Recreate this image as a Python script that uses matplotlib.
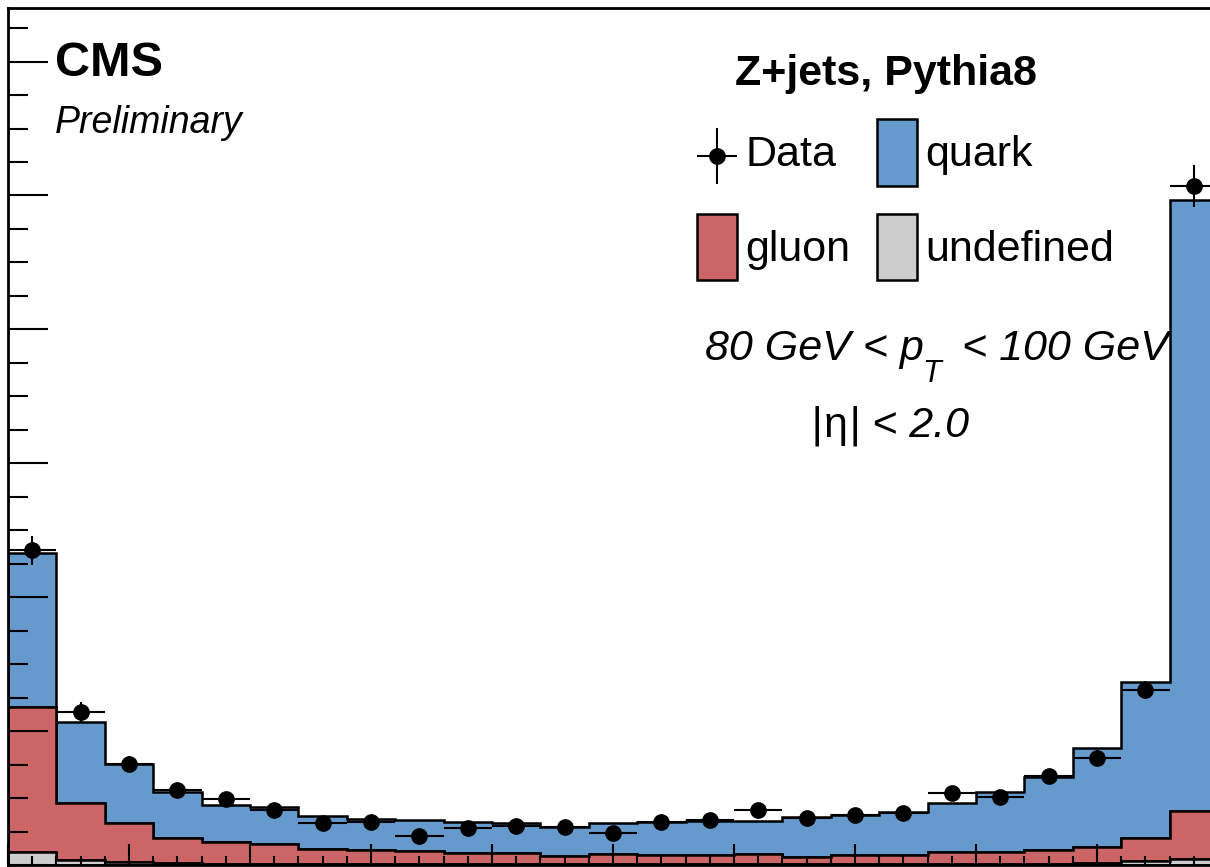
import matplotlib
matplotlib.use('Agg')
import matplotlib.pyplot as plt
import numpy as np
from matplotlib.ticker import MultipleLocator
from matplotlib.legend_handler import HandlerErrorbar

plt.rcParams['font.family'] = ['Liberation Sans', 'DejaVu Sans']

# 25 bins on [0, 1]
bin_edges = np.linspace(0, 1, 26)
bin_centers = 0.5 * (bin_edges[:-1] + bin_edges[1:])

# stacked MC components
undefined = [0.0048, 0.0019, 0.0011, 0.0006, 0.0004, 0.0003, 0.0003, 0.0003, 0.0003,
             0.0003, 0.0003, 0.0003, 0.0003, 0.0003, 0.0003, 0.0003, 0.0003, 0.0003,
             0.0003, 0.0003, 0.0003, 0.0004, 0.0006, 0.0015, 0.0022]
gluon = [0.0541, 0.0212, 0.0146, 0.0095, 0.0082, 0.0075, 0.0057, 0.0053, 0.0049,
         0.0042, 0.0042, 0.0031, 0.0038, 0.0034, 0.0034, 0.0038, 0.0027, 0.0034,
         0.0034, 0.0045, 0.0045, 0.0052, 0.0061, 0.0086, 0.0179]
quark = [0.0575, 0.0302, 0.0220, 0.0171, 0.0138, 0.0138, 0.0123, 0.0116, 0.0116,
         0.0115, 0.0112, 0.0108, 0.0116, 0.0123, 0.0127, 0.0123, 0.0149, 0.0150,
         0.0161, 0.0183, 0.0224, 0.0272, 0.0369, 0.0582, 0.2283]

# data points
data = [0.1175, 0.0571, 0.0377, 0.0280, 0.0246, 0.0205, 0.0157, 0.0160, 0.0108,
        0.0138, 0.0145, 0.0142, 0.0119, 0.0160, 0.0168, 0.0205, 0.0175, 0.0187,
        0.0194, 0.0269, 0.0254, 0.0332, 0.0399, 0.0653, 0.2536]
data_err = [0.0053, 0.0037, 0.0030, 0.0026, 0.0024, 0.0022, 0.0019, 0.0020, 0.0016,
            0.0018, 0.0019, 0.0018, 0.0017, 0.0020, 0.0020, 0.0022, 0.0020, 0.0021,
            0.0022, 0.0025, 0.0025, 0.0028, 0.0031, 0.0034, 0.0078]


class DataHandler(HandlerErrorbar):
    # put the data marker nearer the middle of the legend row
    def create_artists(self, legend, orig_handle, xdescent, ydescent, width, height,
                       fontsize, trans):
        return super().create_artists(legend, orig_handle, xdescent, ydescent + 20,
                                      width, height, fontsize, trans)


W, H = 1210, 867
fig = plt.figure(figsize=(W / 100, H / 100), dpi=100)
ax = fig.add_axes([8 / W, 2 / H, 1210 / W, 857 / H])

hist_out = ax.hist([bin_centers] * 3, bins=bin_edges, weights=[undefined, gluon, quark],
                   stacked=True, histtype='stepfilled',
                   color=['#cccccc', '#cc6666', '#6699cc'], edgecolor='black',
                   linewidth=1.8, label=['undefined', 'gluon', 'quark'])
patches = hist_out[2]

eb = ax.errorbar(bin_centers, data, xerr=0.02, yerr=data_err, fmt='o', color='black',
                 ms=11, elinewidth=1.5, capsize=0, zorder=5, label='Data')

ax.set_xlim(0, 1)
ax.set_ylim(0, 0.32)
ax.xaxis.set_major_locator(MultipleLocator(0.1))
ax.xaxis.set_minor_locator(MultipleLocator(0.02))
ax.yaxis.set_major_locator(MultipleLocator(0.05))
ax.yaxis.set_minor_locator(MultipleLocator(0.0125))
ax.tick_params(axis='x', which='major', direction='in', length=15, width=1.5)
ax.tick_params(axis='x', which='minor', direction='in', length=6.5, width=1.5)
ax.tick_params(axis='y', which='major', direction='in', length=29, width=1.5)
ax.tick_params(axis='y', which='minor', direction='in', length=14.5, width=1.5)
ax.tick_params(labelbottom=False, labelleft=False)
for s in ax.spines.values():
    s.set_linewidth(2)

# texts
fig.text(55 / W, 1 - 76 / H, 'CMS', fontsize=35, fontweight='bold', va='baseline')
fig.text(55 / W, 1 - 133 / H, 'Preliminary', fontsize=27, style='italic', va='baseline')
fig.text(886 / W, 1 - 85 / H, 'Z+jets, Pythia8', fontsize=31, fontweight='bold',
         ha='center', va='baseline')
fig.text(705 / W, 1 - 360 / H, '80 GeV < p', fontsize=31, style='italic', va='baseline')
fig.text(922 / W, 1 - 382 / H, 'T', fontsize=22, style='italic', va='baseline')
fig.text(962 / W, 1 - 360 / H, '< 100 GeV', fontsize=31, style='italic', va='baseline')
fig.text(811 / W, 1 - 437 / H, '|', fontsize=31, style='italic', va='baseline')
fig.text(824 / W, 1 - 437 / H, 'η', fontsize=31, va='baseline')
fig.text(849 / W, 1 - 437 / H, '| < 2.0', fontsize=31, style='italic', va='baseline')

# legend: row 1 Data, quark / row 2 gluon, undefined
handles = [eb, patches[1][0], patches[2][0], patches[0][0]]
labels = ['Data', 'gluon', 'quark', 'undefined']
ax.legend(handles, labels, ncol=2, frameon=False, fontsize=31,
          loc='upper left', bbox_to_anchor=(697 / W, 1 - 119 / H),
          bbox_transform=fig.transFigure, borderpad=0, borderaxespad=0,
          handlelength=0.93, handleheight=2.0, handletextpad=0.19,
          columnspacing=0.63, labelspacing=0.66,
          handler_map={type(eb): DataHandler(xerr_size=0.47, yerr_size=0.65)})

fig.savefig('out.png', dpi=100)
